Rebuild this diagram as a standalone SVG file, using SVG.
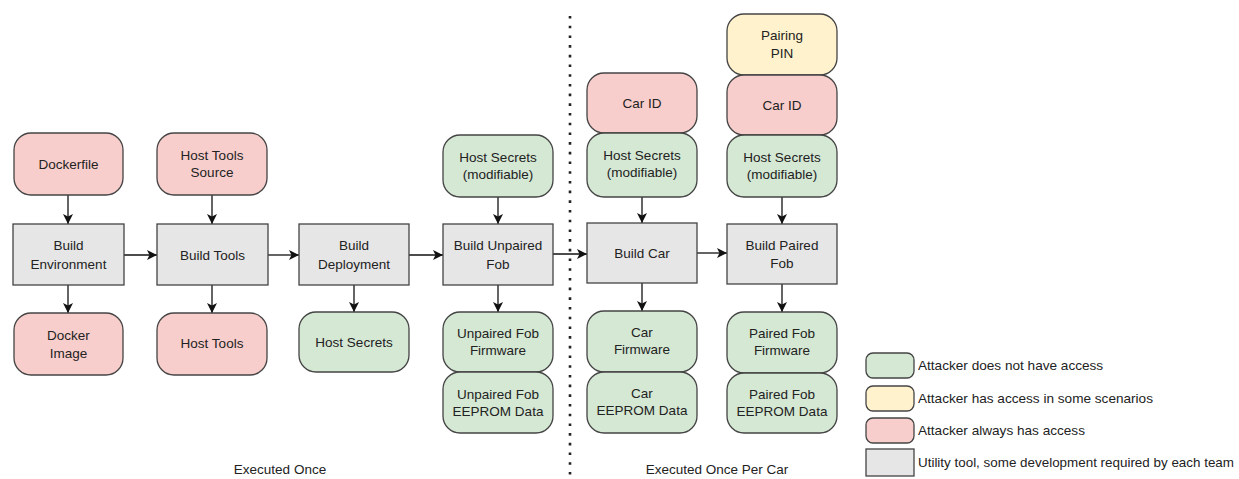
<svg xmlns="http://www.w3.org/2000/svg" width="1239" height="479" viewBox="0 0 1239 479">
<defs>
<marker id="ah" viewBox="0 0 10 10" refX="10" refY="5" markerWidth="10" markerHeight="10" markerUnits="userSpaceOnUse" orient="auto">
<path d="M0,0 L10,5 L0,10 L2.5,5 Z" fill="#111"/>
</marker>
<style>
.t{font-family:"Liberation Sans",Arial,sans-serif;font-size:13.5px;fill:#222;text-anchor:middle}
.lg{font-family:"Liberation Sans",Arial,sans-serif;font-size:13.6px;fill:#222}
.pink{fill:#f8cecc;stroke:#444;stroke-width:1.3}
.green{fill:#d5e8d4;stroke:#444;stroke-width:1.3}
.yellow{fill:#fff2cc;stroke:#444;stroke-width:1.3}
.gray{fill:#e6e6e6;stroke:#444;stroke-width:1.3}
.c{stroke:#111;stroke-width:1.3;fill:none;marker-end:url(#ah)}
</style>
</defs>
<rect width="1239" height="479" fill="#fff"/>
<line x1="570" y1="16" x2="570" y2="476" stroke="#222" stroke-width="2.6" stroke-dasharray="2.6 7.1"/>
<g id="connectors">
<line class="c" x1="68" y1="195" x2="68" y2="224"/>
<line class="c" x1="68" y1="285" x2="68" y2="313"/>
<line class="c" x1="124" y1="255" x2="157" y2="255"/>
<line class="c" x1="212" y1="195" x2="212" y2="224"/>
<line class="c" x1="212" y1="285" x2="212" y2="313"/>
<line class="c" x1="268" y1="255" x2="299" y2="255"/>
<line class="c" x1="354" y1="285" x2="354" y2="312"/>
<line class="c" x1="409" y1="255" x2="443" y2="255"/>
<line class="c" x1="498" y1="197" x2="498" y2="224"/>
<line class="c" x1="498" y1="285" x2="498" y2="312"/>
<line class="c" x1="553" y1="254" x2="587" y2="254"/>
<line class="c" x1="642" y1="197" x2="642" y2="223"/>
<line class="c" x1="697" y1="253" x2="727" y2="253"/>
<line class="c" x1="782" y1="197" x2="782" y2="224"/>
<line class="c" x1="642" y1="283" x2="642" y2="311"/>
<line class="c" x1="782" y1="284" x2="782" y2="312"/>
</g>
<g id="dockerfile"><rect class="pink" x="14" y="133" width="109" height="62" rx="17"/><text class="t" x="68.5" y="169">Dockerfile</text></g>
<g id="build-environment"><rect class="gray" x="13" y="224" width="111" height="61"/><text class="t" x="68.5" y="250">Build</text><text class="t" x="68.5" y="269">Environment</text></g>
<g id="docker-image"><rect class="pink" x="14" y="313" width="109" height="62" rx="17"/><text class="t" x="68.5" y="340">Docker</text><text class="t" x="68.5" y="358">Image</text></g>
<g id="host-tools-source"><rect class="pink" x="157" y="133" width="110" height="62" rx="17"/><text class="t" x="212" y="160">Host Tools</text><text class="t" x="212" y="177">Source</text></g>
<g id="build-tools"><rect class="gray" x="157" y="224" width="111" height="61"/><text class="t" x="212.5" y="260">Build Tools</text></g>
<g id="host-tools"><rect class="pink" x="157" y="313" width="110" height="62" rx="17"/><text class="t" x="212" y="348">Host Tools</text></g>
<g id="build-deployment"><rect class="gray" x="299" y="224" width="110" height="61"/><text class="t" x="354" y="250">Build</text><text class="t" x="354" y="269">Deployment</text></g>
<g id="host-secrets"><rect class="green" x="299" y="312" width="110" height="60" rx="17"/><text class="t" x="354" y="347">Host Secrets</text></g>
<g id="host-secrets-mod-1"><rect class="green" x="443" y="135" width="110" height="62" rx="17"/><text class="t" x="498" y="162">Host Secrets</text><text class="t" x="498" y="179">(modifiable)</text></g>
<g id="build-unpaired-fob"><rect class="gray" x="443" y="224" width="110" height="61"/><text class="t" x="498" y="250">Build Unpaired</text><text class="t" x="498" y="269">Fob</text></g>
<g id="unpaired-fob-firmware"><rect class="green" x="443" y="312" width="110" height="60" rx="17"/><text class="t" x="498" y="338">Unpaired Fob</text><text class="t" x="498" y="355">Firmware</text></g>
<g id="unpaired-fob-eeprom"><rect class="green" x="443" y="372" width="110" height="61" rx="17"/><text class="t" x="498" y="399">Unpaired Fob</text><text class="t" x="498" y="416">EEPROM Data</text></g>
<g id="car-id-1"><rect class="pink" x="587" y="73" width="110" height="60" rx="17"/><text class="t" x="642" y="108">Car ID</text></g>
<g id="host-secrets-mod-2"><rect class="green" x="587" y="133" width="110" height="64" rx="17"/><text class="t" x="642" y="160">Host Secrets</text><text class="t" x="642" y="177">(modifiable)</text></g>
<g id="build-car"><rect class="gray" x="587" y="223" width="110" height="60"/><text class="t" x="642" y="258">Build Car</text></g>
<g id="car-firmware"><rect class="green" x="587" y="311" width="110" height="61" rx="17"/><text class="t" x="642" y="337">Car</text><text class="t" x="642" y="354">Firmware</text></g>
<g id="car-eeprom"><rect class="green" x="587" y="372" width="110" height="61" rx="17"/><text class="t" x="642" y="398">Car</text><text class="t" x="642" y="415">EEPROM Data</text></g>
<g id="pairing-pin"><rect class="yellow" x="727" y="14" width="110" height="61" rx="17"/><text class="t" x="782" y="40">Pairing</text><text class="t" x="782" y="58">PIN</text></g>
<g id="car-id-2"><rect class="pink" x="727" y="75" width="110" height="60" rx="17"/><text class="t" x="782" y="110">Car ID</text></g>
<g id="host-secrets-mod-3"><rect class="green" x="727" y="135" width="110" height="62" rx="17"/><text class="t" x="782" y="162">Host Secrets</text><text class="t" x="782" y="179">(modifiable)</text></g>
<g id="build-paired-fob"><rect class="gray" x="727" y="224" width="110" height="60"/><text class="t" x="782" y="250">Build Paired</text><text class="t" x="782" y="268">Fob</text></g>
<g id="paired-fob-firmware"><rect class="green" x="727" y="312" width="110" height="61" rx="17"/><text class="t" x="782" y="338">Paired Fob</text><text class="t" x="782" y="355">Firmware</text></g>
<g id="paired-fob-eeprom"><rect class="green" x="727" y="373" width="110" height="60" rx="17"/><text class="t" x="782" y="399">Paired Fob</text><text class="t" x="782" y="416">EEPROM Data</text></g>
<g id="labels">
<text class="t" x="280" y="474">Executed Once</text>
<text class="t" x="717" y="474">Executed Once Per Car</text>
</g>
<g id="legend">
<rect class="green" x="866" y="353" width="48" height="25" rx="7"/><text class="lg" x="918" y="370">Attacker does not have access</text>
<rect class="yellow" x="866" y="386" width="48" height="25" rx="7"/><text class="lg" x="918" y="403">Attacker has access in some scenarios</text>
<rect class="pink" x="866" y="418" width="48" height="25" rx="7"/><text class="lg" x="918" y="435">Attacker always has access</text>
<rect class="gray" x="866" y="449" width="48" height="27"/><text class="lg" x="918" y="467" textLength="316" lengthAdjust="spacingAndGlyphs">Utility tool, some development required by each team</text>
</g>
</svg>
